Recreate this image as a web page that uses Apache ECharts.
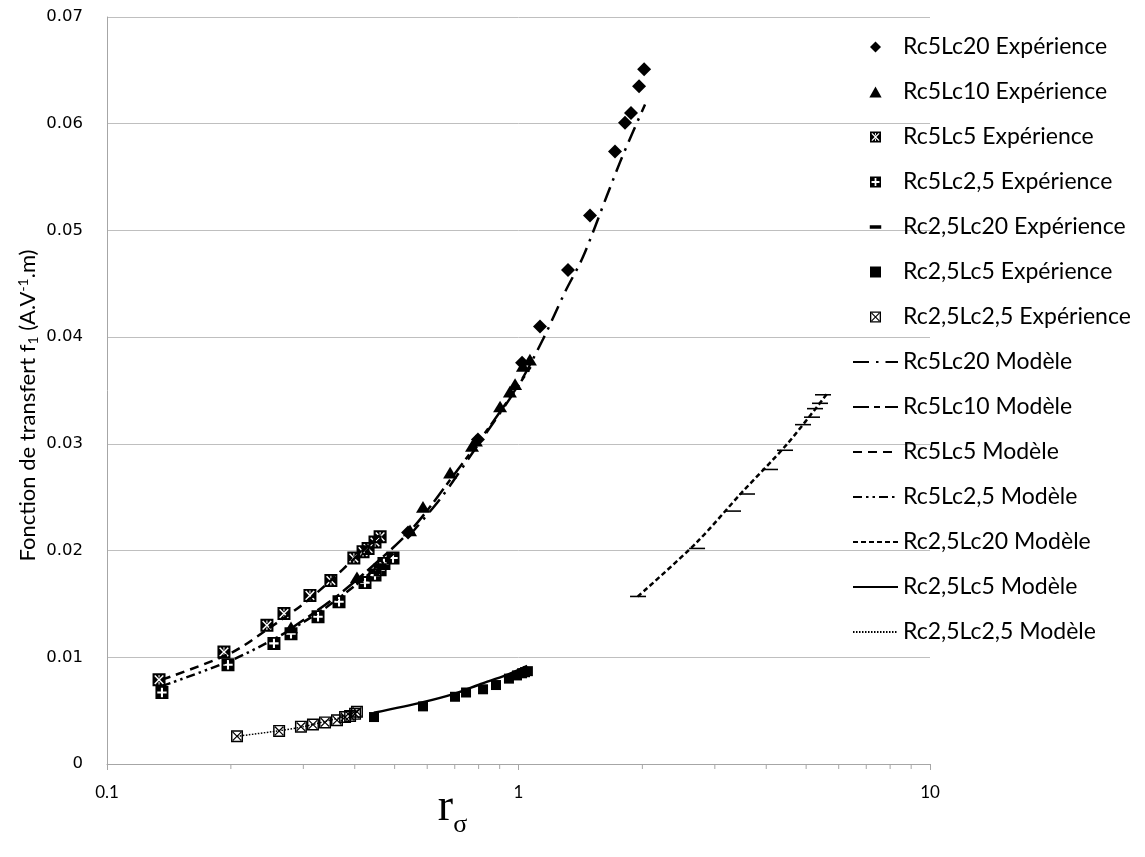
<!DOCTYPE html>
<html>
<head>
<meta charset="utf-8">
<script src="https://cdn.jsdelivr.net/npm/echarts@6/dist/echarts.min.js"></script>
<style>
html,body{margin:0;padding:0;background:#fff;}
#chart{width:1145px;height:857px;}
</style>
</head>
<body>
<div id="chart"></div>
<script>
// ---- Data (x = r_sigma, y = f1) ----
const rc5lc20Exp = [[2.02,0.0651],[1.963,0.0635],[1.877,0.0610],[1.815,0.0601],[1.716,0.0574],[1.492,0.0514],[1.319,0.0463],[1.128,0.0410],[1.020,0.0376],[0.797,0.0304],[0.539,0.0217]];
const rc5lc10Exp = [[1.066,0.0379],[1.025,0.0373],[0.981,0.0356],[0.953,0.0349],[0.902,0.0335],[0.788,0.0303],[0.771,0.0298],[0.682,0.0273],[0.586,0.0241],[0.545,0.0219],[0.405,0.0175],[0.280,0.0128]];
const rc5lc5Exp = [[0.1338,0.0079],[0.1924,0.0105],[0.2447,0.0130],[0.2692,0.0141],[0.3113,0.0158],[0.350,0.0172],[0.398,0.0193],[0.419,0.0199],[0.431,0.0202],[0.448,0.0208],[0.461,0.0213]];
const rc5lc25Exp = [[0.136,0.0067],[0.1968,0.0093],[0.2545,0.0113],[0.280,0.0122],[0.3257,0.0138],[0.3663,0.0152],[0.4236,0.0170],[0.448,0.0177],[0.461,0.0182],[0.471,0.0188],[0.4955,0.0193]];
const rc25lc20Exp = [[1.952,0.0157],[2.716,0.0202],[3.321,0.0237],[3.592,0.0253],[4.085,0.0276],[4.443,0.0294],[4.914,0.0318],[5.167,0.0325],[5.254,0.0333],[5.403,0.0338],[5.495,0.0346]];
const rc25lc5Exp = [[0.4455,0.0044],[0.586,0.0054],[0.701,0.0063],[0.7456,0.0067],[0.820,0.0070],[0.8817,0.0074],[0.948,0.0080],[0.9917,0.0083],[1.02,0.0085],[1.037,0.0086],[1.054,0.0087]];
const rc25lc25Exp = [[0.207,0.0026],[0.262,0.0031],[0.296,0.0035],[0.3166,0.0037],[0.3387,0.0039],[0.3622,0.0041],[0.3789,0.0044],[0.3897,0.0045],[0.4007,0.0047],[0.405,0.0049]];

const rc5lc20Mod = [[0.54,0.0213],[0.65,0.0250],[0.80,0.0300],[1.0,0.0355],[1.147,0.0398],[1.30,0.0443],[1.434,0.0475],[1.638,0.0532],[1.765,0.0564],[1.9,0.0593],[2.03,0.0618]];
const rc5lc10Mod = [[0.28,0.0127],[0.35,0.0153],[0.42,0.0178],[0.55,0.0220],[0.70,0.0272],[0.85,0.0316],[1.0,0.0355],[1.07,0.0372]];
const rc5lc5Mod = [[0.136,0.0079],[0.20,0.0104],[0.245,0.0126],[0.30,0.0150],[0.35,0.0172],[0.40,0.0193],[0.465,0.0216]];
const rc5lc25Mod = [[0.136,0.0073],[0.20,0.0097],[0.26,0.0119],[0.33,0.0143],[0.40,0.0167],[0.50,0.0198]];
const rc25lc20Mod = [[1.95,0.0157],[2.7,0.0207],[3.5,0.0255],[4.5,0.0300],[5.65,0.0348]];
const rc25lc5Mod = [[0.445,0.0048],[0.586,0.0058],[0.70,0.0066],[0.81,0.0075],[0.93,0.0083],[1.05,0.0092]];
const rc25lc25Mod = [[0.207,0.0026],[0.26,0.0031],[0.30,0.0035],[0.34,0.0040],[0.38,0.0045],[0.41,0.0051]];

const expNames = ['Rc5Lc20 Expérience','Rc5Lc10 Expérience','Rc5Lc5 Expérience','Rc5Lc2,5 Expérience','Rc2,5Lc20 Expérience','Rc2,5Lc5 Expérience','Rc2,5Lc2,5 Expérience'];
const modNames = ['Rc5Lc20 Modèle','Rc5Lc10 Modèle','Rc5Lc5 Modèle','Rc5Lc2,5 Modèle','Rc2,5Lc20 Modèle','Rc2,5Lc5 Modèle','Rc2,5Lc2,5 Modèle'];
const xMin = 0.1, xMax = 10;
const yMin = 0, yMax = 0.07, yStep = 0.01;
const minorTickValues = [0.2,0.3,0.4,0.5,0.6,0.7,0.8,0.9,2,3,4,5,6,7,8,9];

// ---- Marker shapes ----
const SYM = {
  diamond: 'path://M5 0L10 5L5 10L0 5Z',
  triangle: 'path://M5 0L10 9L0 9Z',
  crossSquare: 'path://M0 0H10V10H0Z M1.3 2.1L4.2 5L1.3 7.9L2.1 8.7L5 5.8L7.9 8.7L8.7 7.9L5.8 5L8.7 2.1L7.9 1.3L5 4.2L2.1 1.3Z M4.6 1.3V3.3H5.4V1.3Z M4.6 6.7V8.7H5.4V6.7Z',
  plusSquare: 'path://M0 0H10V10H0Z M4.2 4.2L1.4 4.2L1.4 5.8L4.2 5.8L4.2 8.6L5.8 8.6L5.8 5.8L8.6 5.8L8.6 4.2L5.8 4.2L5.8 1.4L4.2 1.4Z',
  dash: 'path://M0 0H16V5H0Z',
  dashLegend: 'path://M-10 -4Z M0 0H12V3.5H0Z M22 7.5Z',
  square: 'path://M0 0H10V10H0Z',
  boxX: 'path://M0 0H10V10H0Z M1.2 1.2V8.8H8.8V1.2Z M1.9 1.2L5 4.3L8.1 1.2L8.8 1.9L5.7 5L8.8 8.1L8.1 8.8L5 5.7L1.9 8.8L1.2 8.1L4.3 5L1.2 1.9Z'
};

function scatter(name, data, symbol, size) {
  return { name, type: 'scatter', data, symbol, symbolSize: size, symbolKeepAspect: true,
    itemStyle: { color: '#000', opacity: 1 }, emphasis: { disabled: true } };
}
function line(name, data, dash, width) {
  return { name, type: 'line', data, symbol: 'circle', showSymbol: false, smooth: 0.3,
    itemStyle: { color: '#000' },
    lineStyle: { color: '#000', width: width, type: dash, cap: 'butt' }, emphasis: { disabled: true } };
}

const series = [
  scatter(expNames[0], rc5lc20Exp, SYM.diamond, 14),
  scatter(expNames[1], rc5lc10Exp, SYM.triangle, [14, 13]),
  scatter(expNames[2], rc5lc5Exp, SYM.crossSquare, 13),
  scatter(expNames[3], rc5lc25Exp, SYM.plusSquare, 13),
  scatter(expNames[4], rc25lc20Exp, SYM.dash, [16, 5]),
  scatter(expNames[5], rc25lc5Exp, SYM.square, 10),
  scatter(expNames[6], rc25lc25Exp, SYM.boxX, 12),
  line(modNames[0], rc5lc20Mod, [16, 7, 2.5, 7], 2.5),
  line(modNames[1], rc5lc10Mod, [16, 5, 6, 5], 2.5),
  line(modNames[2], rc5lc5Mod, [9, 6], 2.5),
  line(modNames[3], rc5lc25Mod, [9, 4, 2.5, 4, 2.5, 4], 2.5),
  line(modNames[4], rc25lc20Mod, [5, 3], 2.5),
  line(modNames[5], rc25lc5Mod, 'solid', 2.5),
  line(modNames[6], rc25lc25Mod, [1.5, 1.5], 1.5),
  {
    type: 'custom', silent: true, clip: false, z: 1,
    data: minorTickValues.map(v => [v, yMin]),
    renderItem: function (params, api) {
      const p = api.coord([api.value(0), api.value(1)]);
      return { type: 'line', shape: { x1: p[0], y1: p[1], x2: p[0], y2: p[1] + 5 },
        style: { stroke: '#a6a6a6', lineWidth: 1 } };
    }
  }
];

const legendData = expNames.map(n => (n === expNames[4] ? { name: n, icon: SYM.dashLegend } : { name: n }))
  .concat(modNames.map(n => ({ name: n, itemStyle: { opacity: 0 } })));

const chart = echarts.init(document.getElementById('chart'), null, { renderer: 'canvas' });
chart.setOption({
  animation: false,
  backgroundColor: '#fff',
  grid: { left: 107, right: 215, top: 17, bottom: 93, containLabel: false },
  xAxis: {
    type: 'log', logBase: 10, min: xMin, max: xMax,
    name: '{r|r}{s|σ}', nameLocation: 'middle', nameGap: 30, nameMoveOverlap: false,
    nameTextStyle: { padding: [0, 132, 0, 0],
      rich: { r: { fontFamily: 'Liberation Serif', fontSize: 46, color: '#000', lineHeight: 48, padding: [0, 0, 20, 0] },
              s: { fontFamily: 'Liberation Serif', fontSize: 26, color: '#000', lineHeight: 30, padding: [26, 0, 12, 0] } } },
    axisLine: { show: true, lineStyle: { color: '#a6a6a6', width: 1 } },
    axisTick: { show: true, length: 6, lineStyle: { color: '#a6a6a6' } },
    splitLine: { show: false },
    minorTick: { show: false },
    axisLabel: { fontFamily: 'Lato', fontSize: 17, color: '#000', margin: 20 }
  },
  yAxis: {
    type: 'value', min: yMin, max: yMax, interval: yStep,
    name: 'Fonction de transfert f{sub|1} (A.V{sup|-1}.m)',
    nameLocation: 'middle', nameGap: 67, nameRotate: 90, nameMoveOverlap: false,
    nameTextStyle: { fontFamily: 'Lato', fontSize: 22, color: '#000', padding: [0, 30, 0, 0],
      rich: { sub: { fontFamily: 'Lato', fontSize: 14, color: '#000', padding: [10, 0, 0, 0] },
              sup: { fontFamily: 'Lato', fontSize: 14, color: '#000', padding: [0, 0, 10, 0] } } },
    axisLine: { show: true, lineStyle: { color: '#a6a6a6', width: 1 } },
    axisTick: { show: false },
    splitLine: { show: true, lineStyle: { color: '#bfbfbf', width: 1 } },
    axisLabel: { fontFamily: 'DejaVu Sans', fontSize: 16.5, color: '#000', margin: 24,
      formatter: v => (v === 0 ? '0' : v.toFixed(2)) }
  },
  legend: {
    orient: 'vertical', left: 847, top: 30,
    itemWidth: 45, itemHeight: 11, itemGap: 21, selectedMode: false,
    data: legendData,
    textStyle: { fontFamily: 'Lato', fontSize: 23, color: '#000', lineHeight: 24 }
  },
  series: series
});
</script>
</body>
</html>
